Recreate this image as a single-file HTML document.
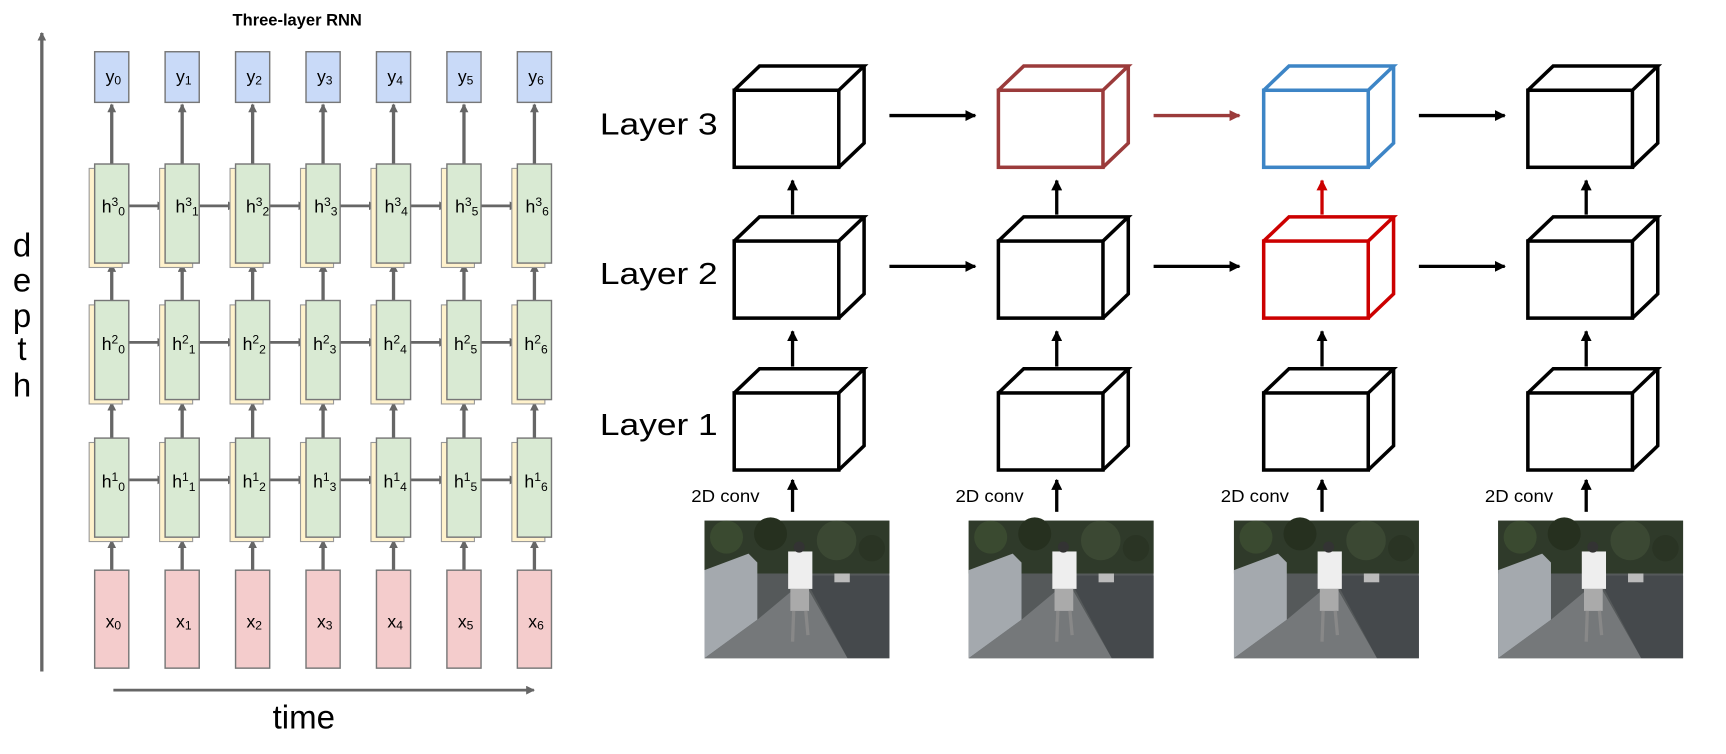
<!DOCTYPE html>
<html><head><meta charset="utf-8"><style>
html,body{margin:0;padding:0;background:#fff;width:1726px;height:754px;overflow:hidden}
svg{display:block}
text{font-family:"Liberation Sans",sans-serif}
</style></head><body>
<svg width="1726" height="754" viewBox="0 0 1568 685" preserveAspectRatio="none" xmlns="http://www.w3.org/2000/svg" xmlns:xlink="http://www.w3.org/1999/xlink">
<defs>
<marker id="ag" markerWidth="8" markerHeight="8" refX="7" refY="4" orient="auto" markerUnits="userSpaceOnUse"><path d="M0,0 L8,4 L0,8 z" fill="#666"/></marker>
<marker id="ak" markerWidth="10" markerHeight="10" refX="9" refY="5" orient="auto" markerUnits="userSpaceOnUse"><path d="M0,0 L10,5 L0,10 z" fill="#000"/></marker>
<marker id="abr" markerWidth="10" markerHeight="10" refX="9" refY="5" orient="auto" markerUnits="userSpaceOnUse"><path d="M0,0 L10,5 L0,10 z" fill="#9b3b3b"/></marker>
<marker id="ar" markerWidth="10" markerHeight="10" refX="9" refY="5" orient="auto" markerUnits="userSpaceOnUse"><path d="M0,0 L10,5 L0,10 z" fill="#cc0000"/></marker>
<g id="photo">
<rect x="0" y="0" width="168" height="125" fill="#55595a"/>
<rect x="0" y="0" width="168" height="48" fill="#2f3a2a"/>
<circle cx="20" cy="15" r="15" fill="#3a4a30"/>
<circle cx="60" cy="12" r="15" fill="#26301f"/>
<circle cx="120" cy="18" r="18" fill="#3b4833"/>
<circle cx="152" cy="25" r="12" fill="#2a3424"/>
<polygon points="0,45 40,30 48,38 48,90 0,125" fill="#a4a9ae"/>
<polygon points="48,90 0,125 130,125 90,55" fill="#75787a"/>
<polygon points="90,50 168,50 168,125 130,125" fill="#45494c"/>
<rect x="118" y="48" width="14" height="8" fill="#bbb"/>
<rect x="76" y="28" width="22" height="34" fill="#eee"/>
<circle cx="86" cy="24" r="5" fill="#333"/>
<rect x="78" y="62" width="17" height="20" fill="#aaa"/>
<line x1="81" y1="82" x2="80" y2="110" stroke="#888" stroke-width="3"/>
<line x1="92" y1="82" x2="94" y2="104" stroke="#888" stroke-width="3"/>
</g>
<g id="col">
<g stroke="#666" stroke-width="3">
<line x1="15.5" y1="518" x2="15.5" y2="491" marker-end="url(#ag)"/>
<line x1="15.5" y1="398" x2="15.5" y2="366" marker-end="url(#ag)"/>
<line x1="15.5" y1="273" x2="15.5" y2="240" marker-end="url(#ag)"/>
<line x1="15.5" y1="149" x2="15.5" y2="95" marker-end="url(#ag)"/>
</g>
<rect x="0" y="47" width="31" height="46" fill="#c9daf8" stroke="#777" stroke-width="1.3"/>
<rect x="0" y="518" width="31" height="89" fill="#f4cccc" stroke="#777" stroke-width="1.3"/>
<rect x="-5" y="153" width="30" height="90" fill="#fff2cc" stroke="#999"/>
<rect x="0" y="149" width="31" height="90" fill="#d9ead3" stroke="#777" stroke-width="1.3"/>
<rect x="-5" y="277" width="30" height="90" fill="#fff2cc" stroke="#999"/>
<rect x="0" y="273" width="31" height="90" fill="#d9ead3" stroke="#777" stroke-width="1.3"/>
<rect x="-5" y="402" width="30" height="90" fill="#fff2cc" stroke="#999"/>
<rect x="0" y="398" width="31" height="90" fill="#d9ead3" stroke="#777" stroke-width="1.3"/>
</g>
<g id="harr" stroke="#666" stroke-width="2.5">
<line x1="31" y1="187" x2="64" y2="187" marker-end="url(#ag)"/>
<line x1="31" y1="311" x2="64" y2="311" marker-end="url(#ag)"/>
<line x1="31" y1="436" x2="64" y2="436" marker-end="url(#ag)"/>
</g>
<g id="cube" fill="none" stroke-width="3.2">
<rect x="0" y="0" width="95" height="70"/>
<path d="M0,0 L23,-22 L118,-22 L95,0 M118,-22 L118,48 L95,70"/>
</g>
</defs>
<text x="270" y="23" font-size="15" font-weight="bold" text-anchor="middle">Three-layer RNN</text>
<line x1="38" y1="610" x2="38" y2="30" stroke="#666" stroke-width="3" marker-end="url(#ag)"/>
<line x1="103" y1="627" x2="485" y2="627" stroke="#666" stroke-width="2.5" marker-end="url(#ag)"/>
<text x="276" y="662" font-size="30" text-anchor="middle">time</text>
<g font-size="30" text-anchor="middle"><text x="20" y="233">d</text><text x="20" y="265">e</text><text x="20" y="297">p</text><text x="20" y="327">t</text><text x="20" y="360">h</text></g>

<use xlink:href="#harr" href="#harr" x="86"/>
<use xlink:href="#harr" href="#harr" x="150"/>
<use xlink:href="#harr" href="#harr" x="214"/>
<use xlink:href="#harr" href="#harr" x="278"/>
<use xlink:href="#harr" href="#harr" x="342"/>
<use xlink:href="#harr" href="#harr" x="406"/>
<use xlink:href="#col" href="#col" x="86"/>
<use xlink:href="#col" href="#col" x="150"/>
<use xlink:href="#col" href="#col" x="214"/>
<use xlink:href="#col" href="#col" x="278"/>
<use xlink:href="#col" href="#col" x="342"/>
<use xlink:href="#col" href="#col" x="406"/>
<use xlink:href="#col" href="#col" x="470"/>

<g font-size="16" text-anchor="middle">
<text x="103" y="75">y<tspan font-size="11" dy="2">0</tspan></text>
<text x="167" y="75">y<tspan font-size="11" dy="2">1</tspan></text>
<text x="231" y="75">y<tspan font-size="11" dy="2">2</tspan></text>
<text x="295" y="75">y<tspan font-size="11" dy="2">3</tspan></text>
<text x="359" y="75">y<tspan font-size="11" dy="2">4</tspan></text>
<text x="423" y="75">y<tspan font-size="11" dy="2">5</tspan></text>
<text x="487" y="75">y<tspan font-size="11" dy="2">6</tspan></text>
<text x="103" y="570">x<tspan font-size="11" dy="2">0</tspan></text>
<text x="167" y="570">x<tspan font-size="11" dy="2">1</tspan></text>
<text x="231" y="570">x<tspan font-size="11" dy="2">2</tspan></text>
<text x="295" y="570">x<tspan font-size="11" dy="2">3</tspan></text>
<text x="359" y="570">x<tspan font-size="11" dy="2">4</tspan></text>
<text x="423" y="570">x<tspan font-size="11" dy="2">5</tspan></text>
<text x="487" y="570">x<tspan font-size="11" dy="2">6</tspan></text>
<text x="103" y="193">h<tspan font-size="11" dy="-6">3</tspan><tspan font-size="11" dy="9">0</tspan></text>
<text x="170" y="193">h<tspan font-size="11" dy="-6">3</tspan><tspan font-size="11" dy="9">1</tspan></text>
<text x="234" y="193">h<tspan font-size="11" dy="-6">3</tspan><tspan font-size="11" dy="9">2</tspan></text>
<text x="296" y="193">h<tspan font-size="11" dy="-6">3</tspan><tspan font-size="11" dy="9">3</tspan></text>
<text x="360" y="193">h<tspan font-size="11" dy="-6">3</tspan><tspan font-size="11" dy="9">4</tspan></text>
<text x="424" y="193">h<tspan font-size="11" dy="-6">3</tspan><tspan font-size="11" dy="9">5</tspan></text>
<text x="488" y="193">h<tspan font-size="11" dy="-6">3</tspan><tspan font-size="11" dy="9">6</tspan></text>
<text x="103" y="318">h<tspan font-size="11" dy="-6">2</tspan><tspan font-size="11" dy="9">0</tspan></text>
<text x="167" y="318">h<tspan font-size="11" dy="-6">2</tspan><tspan font-size="11" dy="9">1</tspan></text>
<text x="231" y="318">h<tspan font-size="11" dy="-6">2</tspan><tspan font-size="11" dy="9">2</tspan></text>
<text x="295" y="318">h<tspan font-size="11" dy="-6">2</tspan><tspan font-size="11" dy="9">3</tspan></text>
<text x="359" y="318">h<tspan font-size="11" dy="-6">2</tspan><tspan font-size="11" dy="9">4</tspan></text>
<text x="423" y="318">h<tspan font-size="11" dy="-6">2</tspan><tspan font-size="11" dy="9">5</tspan></text>
<text x="487" y="318">h<tspan font-size="11" dy="-6">2</tspan><tspan font-size="11" dy="9">6</tspan></text>
<text x="103" y="443">h<tspan font-size="11" dy="-6">1</tspan><tspan font-size="11" dy="9">0</tspan></text>
<text x="167" y="443">h<tspan font-size="11" dy="-6">1</tspan><tspan font-size="11" dy="9">1</tspan></text>
<text x="231" y="443">h<tspan font-size="11" dy="-6">1</tspan><tspan font-size="11" dy="9">2</tspan></text>
<text x="295" y="443">h<tspan font-size="11" dy="-6">1</tspan><tspan font-size="11" dy="9">3</tspan></text>
<text x="359" y="443">h<tspan font-size="11" dy="-6">1</tspan><tspan font-size="11" dy="9">4</tspan></text>
<text x="423" y="443">h<tspan font-size="11" dy="-6">1</tspan><tspan font-size="11" dy="9">5</tspan></text>
<text x="487" y="443">h<tspan font-size="11" dy="-6">1</tspan><tspan font-size="11" dy="9">6</tspan></text>
</g>

<g font-size="28"><text x="545" y="122" textLength="107" lengthAdjust="spacingAndGlyphs">Layer 3</text><text x="545" y="258" textLength="107" lengthAdjust="spacingAndGlyphs">Layer 2</text><text x="545" y="395" textLength="107" lengthAdjust="spacingAndGlyphs">Layer 1</text></g>

<use xlink:href="#cube" href="#cube" x="667" y="82" stroke="#000"/>
<use xlink:href="#cube" href="#cube" x="907" y="82" stroke="#9b3b3b"/>
<use xlink:href="#cube" href="#cube" x="1148" y="82" stroke="#3d85c6"/>
<use xlink:href="#cube" href="#cube" x="1388" y="82" stroke="#000"/>
<use xlink:href="#cube" href="#cube" x="667" y="219" stroke="#000"/>
<use xlink:href="#cube" href="#cube" x="907" y="219" stroke="#000"/>
<use xlink:href="#cube" href="#cube" x="1148" y="219" stroke="#cc0000"/>
<use xlink:href="#cube" href="#cube" x="1388" y="219" stroke="#000"/>
<use xlink:href="#cube" href="#cube" x="667" y="357" stroke="#000"/>
<use xlink:href="#cube" href="#cube" x="907" y="357" stroke="#000"/>
<use xlink:href="#cube" href="#cube" x="1148" y="357" stroke="#000"/>
<use xlink:href="#cube" href="#cube" x="1388" y="357" stroke="#000"/>

<g stroke-width="3">
<line x1="808" y1="105" x2="886" y2="105" stroke="#000" marker-end="url(#ak)"/>
<line x1="1048" y1="105" x2="1126" y2="105" stroke="#9b3b3b" marker-end="url(#abr)"/>
<line x1="1289" y1="105" x2="1367" y2="105" stroke="#000" marker-end="url(#ak)"/>
<line x1="808" y1="242" x2="886" y2="242" stroke="#000" marker-end="url(#ak)"/>
<line x1="1048" y1="242" x2="1126" y2="242" stroke="#000" marker-end="url(#ak)"/>
<line x1="1289" y1="242" x2="1367" y2="242" stroke="#000" marker-end="url(#ak)"/>
<line x1="720" y1="195" x2="720" y2="164" stroke="#000" marker-end="url(#ak)"/>
<line x1="960" y1="195" x2="960" y2="164" stroke="#000" marker-end="url(#ak)"/>
<line x1="1201" y1="195" x2="1201" y2="164" stroke="#cc0000" marker-end="url(#ar)"/>
<line x1="1441" y1="195" x2="1441" y2="164" stroke="#000" marker-end="url(#ak)"/>
<line x1="720" y1="333" x2="720" y2="301" stroke="#000" marker-end="url(#ak)"/>
<line x1="960" y1="333" x2="960" y2="301" stroke="#000" marker-end="url(#ak)"/>
<line x1="1201" y1="333" x2="1201" y2="301" stroke="#000" marker-end="url(#ak)"/>
<line x1="1441" y1="333" x2="1441" y2="301" stroke="#000" marker-end="url(#ak)"/>
<line x1="720" y1="465" x2="720" y2="436" stroke="#000" marker-end="url(#ak)"/>
<line x1="960" y1="465" x2="960" y2="436" stroke="#000" marker-end="url(#ak)"/>
<line x1="1201" y1="465" x2="1201" y2="436" stroke="#000" marker-end="url(#ak)"/>
<line x1="1441" y1="465" x2="1441" y2="436" stroke="#000" marker-end="url(#ak)"/>
</g>
<g font-size="16">
<text x="628" y="456" textLength="62" lengthAdjust="spacingAndGlyphs">2D conv</text>
<text x="868" y="456" textLength="62" lengthAdjust="spacingAndGlyphs">2D conv</text>
<text x="1109" y="456" textLength="62" lengthAdjust="spacingAndGlyphs">2D conv</text>
<text x="1349" y="456" textLength="62" lengthAdjust="spacingAndGlyphs">2D conv</text>
</g>
<use xlink:href="#photo" href="#photo" x="640" y="473"/>
<use xlink:href="#photo" href="#photo" x="880" y="473"/>
<use xlink:href="#photo" href="#photo" x="1121" y="473"/>
<use xlink:href="#photo" href="#photo" x="1361" y="473"/>
</svg>
</body></html>
